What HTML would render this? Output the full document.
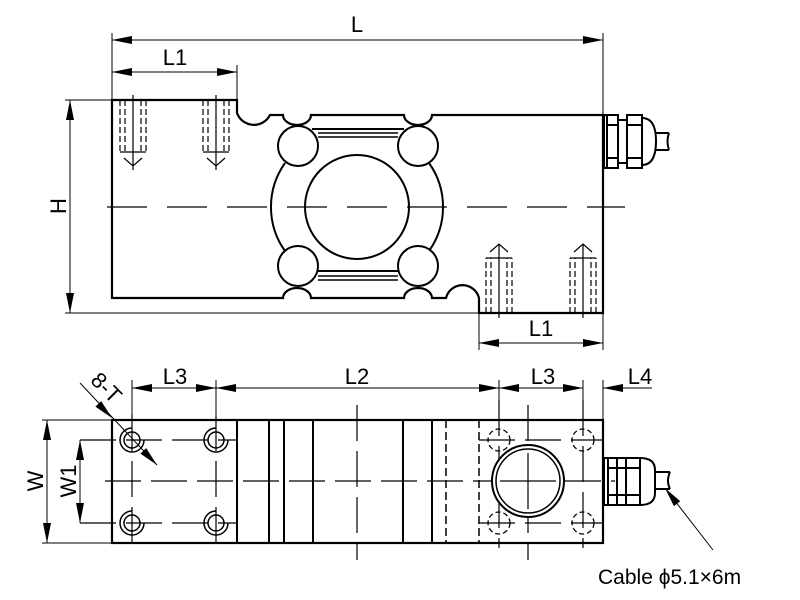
<!DOCTYPE html>
<html><head><meta charset="utf-8"><style>body{margin:0;background:#fff}svg{display:block}</style></head><body>
<svg width="800" height="600" viewBox="0 0 800 600" xmlns="http://www.w3.org/2000/svg" font-family="Liberation Sans, sans-serif">
<g stroke="#000" fill="none">
<path stroke-width="2.2" d="M112,100 L237,100 L237,113 A18,18 0 0 0 270,115 L283,115 A14,10 0 0 0 311,115 L404,115 A14,10 0 0 0 432,115 L603,115 L603,313 L479,313 L479,298 A17,17 0 0 0 446,298 L432,298 A14,10 0 0 0 404,298 L311,298 A14,10 0 0 0 283,298 L112,298 Z"/>
<circle cx="357" cy="207" r="52" stroke-width="2"/>
<path stroke-width="2" d="M285,163 A76,76 0 0 0 285,251 M429,163 A76,76 0 0 1 429,251 M312,129 L404,129 M312,271 L404,271"/>
<path stroke-width="1.5" d="M318,133 L398,133 M318,137 L398,137 M318,276 L398,276 M318,280 L398,280"/>
<circle cx="298" cy="146" r="20" stroke-width="2" fill="#fff"/>
<circle cx="418" cy="146" r="20" stroke-width="2" fill="#fff"/>
<circle cx="298" cy="266" r="20" stroke-width="2" fill="#fff"/>
<circle cx="418" cy="266" r="20" stroke-width="2" fill="#fff"/>
<path stroke-width="1.2" stroke-dasharray="40,20" d="M107,207 L625,207"/>
<g stroke-width="1.2" stroke-dasharray="6,3">
<path d="M120,100V152M146,100V152M125,100V152M141,100V152M203,100V152M229,100V152M208,100V152M224,100V152"/>
<path d="M486,313V258M512,313V258M491,313V258M507,313V258M570,313V258M596,313V258M575,313V258M591,313V258"/>
</g>
<g stroke-width="1.2">
<path d="M133,95V170M120,152H146M124,158L133,166L142,158M216,95V170M203,152H229M207,158L216,166L225,158"/>
<path d="M499,318V244M486,258H512M490,252L499,244L508,252M583,318V244M570,258H596M574,252L583,244L592,252"/>
</g>
<g stroke-width="2">
<rect x="604" y="115" width="3" height="53"/>
<rect x="607" y="115" width="11" height="53"/><path d="M607,125H618M607,158H618M618,120H627V163H618"/>
<rect x="627" y="115" width="15" height="53"/><path d="M627,125H642M627,158H642"/>
<path d="M642,118 Q656,118 656,141 Q656,165 642,165"/>
<path d="M656,133H669M656,150H669 M669,133 Q666,141 669,150"/>
</g>
<g stroke-width="1">
<path d="M112,33V100M603,33V115M237,65V100M65,100H112M65,313H479M479,313V350M603,313V350"/>
<path d="M112,40H603M112,72H237M70,100V313M479,343H603"/>
</g>
<rect x="112" y="420" width="491" height="123" stroke-width="2.2"/>
<path stroke-width="2" d="M237,420V543M269,420V543M284,420V543M313,420V543M403,420V543M432,420V543"/>
<path stroke-width="1.5" stroke-dasharray="8,4" d="M446,420V543M479,420V543"/>
<g stroke-width="1.2" stroke-dasharray="36,10">
<path d="M105,481H615M357,405V560M528,405V560"/>
<path d="M80,440H237M80,523H237M479,440H603M479,523H603"/>
<path d="M132,415V548M216,415V548M499,400V548M583,400V548"/>
</g>
<circle cx="528" cy="481" r="36" stroke-width="2" fill="#fff"/>
<circle cx="528" cy="481" r="32" stroke-width="1.5"/>
<path stroke-width="1.2" d="M500,481H556M528,453V509"/>
<g stroke-width="1.5">
<circle cx="132" cy="440" r="8"/><path d="M132,428A12,12 0 1 0 144,440"/>
<circle cx="216" cy="440" r="8"/><path d="M216,428A12,12 0 1 0 228,440"/>
<circle cx="132" cy="523" r="8"/><path d="M132,511A12,12 0 1 0 144,523"/>
<circle cx="216" cy="523" r="8"/><path d="M216,511A12,12 0 1 0 228,523"/>
</g>
<g stroke-width="1.3" stroke-dasharray="5,3">
<circle cx="499" cy="440" r="11"/><circle cx="583" cy="440" r="11"/>
<circle cx="499" cy="523" r="11"/><circle cx="583" cy="523" r="11"/>
</g>
<g stroke-width="2">
<rect x="604" y="458" width="4" height="47"/>
<path d="M608,458H640Q655,458 655,470V493Q655,505 640,505H608"/>
<path d="M617,458V505M626,458V505M640,458V505M608,468H640M608,495H640"/>
<path d="M655,472H670M655,489H670M670,472Q666,481 670,489"/>
</g>
<g stroke-width="1">
<path d="M132,380V420M216,380V420M499,380V420M583,380V420M603,380V420M42,420H112M42,543H112"/>
<path d="M132,388H583M603,388H652M47,420V543M80,440V523M80,383L157,465M713,550L668,492"/>
</g>
</g>
<g fill="#000">
<path d="M112,40l20,-4v8zM603,40l-20,-4v8zM112,72l20,-4v8zM237,72l-20,-4v8z"/>
<path d="M70,100l-4,20h8zM70,313l-4,-20h8zM479,343l20,-4v8zM603,343l-20,-4v8z"/>
<path d="M132,388l20,-4v8zM216,388l-20,-4v8zM216,388l20,-4v8zM499,388l-20,-4v8zM499,388l20,-4v8zM583,388l-20,-4v8zM603,388l20,-4v8z"/>
<path d="M47,420l-4,20h8zM47,543l-4,-20h8zM80,440l-4,20h8zM80,523l-4,-20h8z"/>
<path d="M112,418l-16.6,-11.4l5.8,-5.5zM157,465l-16.6,-11.4l5.8,-5.5zM665,488l15.2,13.2l-6.3,4.9z"/>
</g>
<g font-size="22" fill="#000" text-anchor="middle" font-weight="500">
<text x="357" y="32">L</text>
<text x="175" y="65">L1</text>
<text x="541" y="336">L1</text>
<text transform="translate(66,206) rotate(-90)">H</text>
<text x="175" y="384">L3</text>
<text x="357" y="384">L2</text>
<text x="543" y="384">L3</text>
<text x="640" y="384">L4</text>
<text transform="translate(43,481) rotate(-90)">W</text>
<text transform="translate(76,481) rotate(-90)">W1</text>
<text transform="translate(101,393) rotate(45)">8-T</text>
<text x="598" y="584" text-anchor="start" font-size="21">Cable ϕ5.1×6m</text>
</g>
</svg>
</body></html>
